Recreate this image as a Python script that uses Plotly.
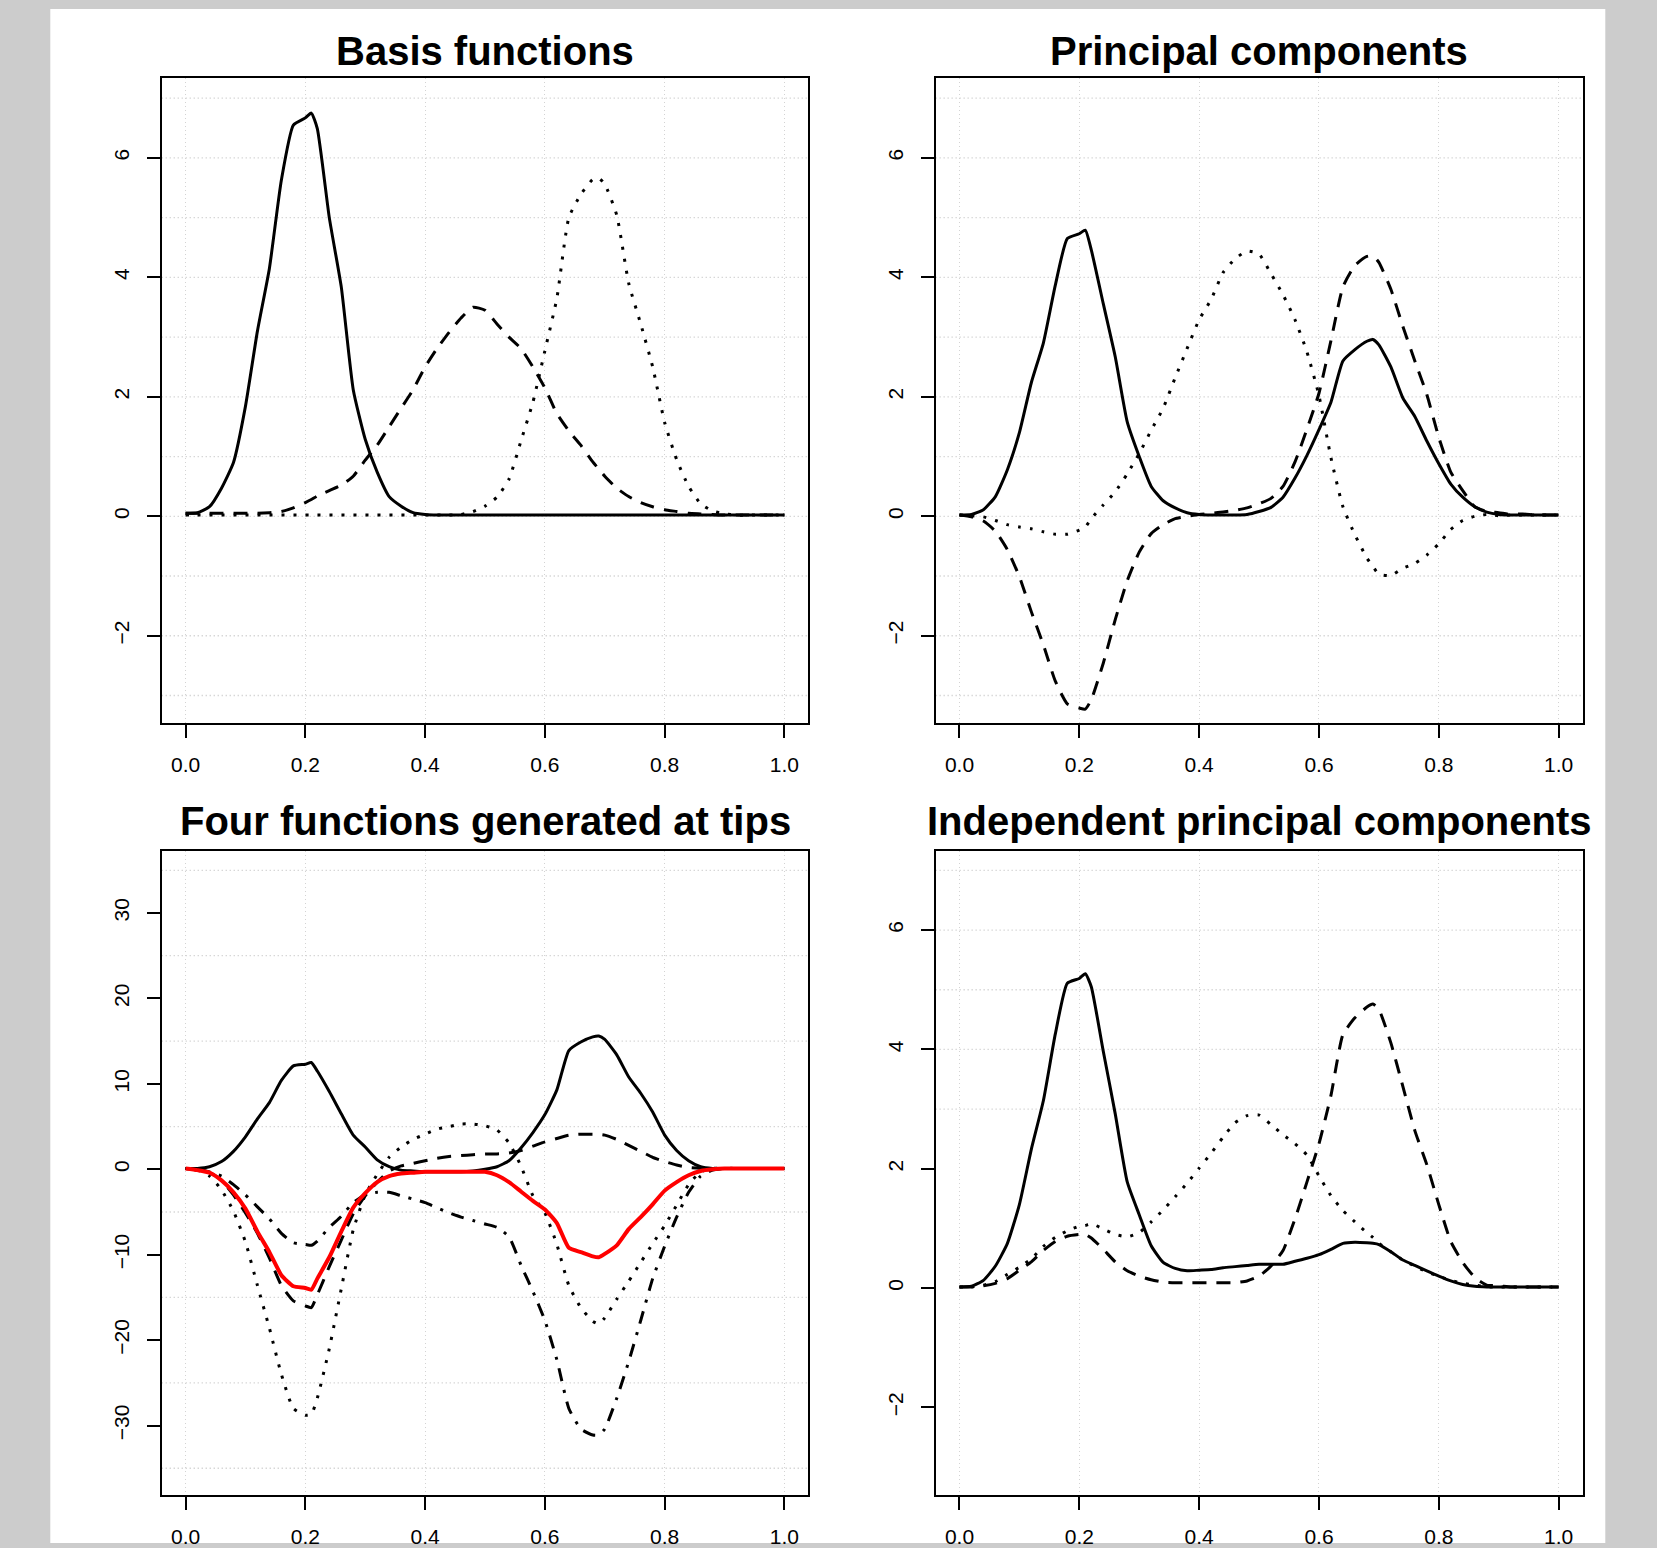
import plotly.graph_objects as go

W, H = 1657, 1548

# ---------------- data ----------------
x_grid = [0.00, 0.02, 0.04, 0.06, 0.08, 0.10, 0.12, 0.14, 0.16, 0.18, 0.20, 0.21, 0.22,
          0.24, 0.26, 0.28, 0.30, 0.32, 0.34, 0.36, 0.38, 0.40, 0.42, 0.44, 0.46, 0.48,
          0.50, 0.52, 0.54, 0.56, 0.58, 0.60, 0.62, 0.64, 0.66, 0.68, 0.69, 0.70, 0.72,
          0.74, 0.76, 0.78, 0.80, 0.82, 0.84, 0.86, 0.88, 0.90, 0.92, 0.94, 0.96, 0.98, 1.00]

# Panel 1: Basis functions
basis_1 = [0.05, 0.06, 0.16, 0.47, 0.90, 1.84, 3.10, 4.15, 5.63, 6.55, 6.67, 6.75, 6.49,
           5.00, 3.84, 2.12, 1.29, 0.74, 0.33, 0.17, 0.06, 0.03, 0.02, 0.02, 0.02, 0.02,
           0.02, 0.02, 0.02, 0.02, 0.02, 0.02, 0.02, 0.02, 0.02, 0.02, 0.02, 0.02, 0.02,
           0.02, 0.02, 0.02, 0.02, 0.02, 0.02, 0.02, 0.02, 0.02, 0.02, 0.02, 0.02, 0.02, 0.02]
basis_2 = [0.05, 0.05, 0.05, 0.05, 0.05, 0.05, 0.05, 0.06, 0.08, 0.14, 0.23, 0.28, 0.34,
           0.43, 0.52, 0.67, 0.94, 1.19, 1.50, 1.81, 2.12, 2.50, 2.81, 3.08, 3.32, 3.50,
           3.45, 3.22, 3.00, 2.81, 2.50, 2.15, 1.72, 1.43, 1.19, 0.91, 0.79, 0.67, 0.47,
           0.33, 0.23, 0.16, 0.11, 0.08, 0.05, 0.04, 0.03, 0.02, 0.02, 0.02, 0.02, 0.02, 0.02]
basis_3 = [0.02, 0.02, 0.02, 0.02, 0.02, 0.02, 0.02, 0.02, 0.02, 0.02, 0.02, 0.02, 0.02,
           0.02, 0.02, 0.02, 0.02, 0.02, 0.02, 0.02, 0.02, 0.02, 0.02, 0.02, 0.03, 0.08,
           0.17, 0.32, 0.62, 1.26, 1.91, 2.77, 3.65, 5.00, 5.39, 5.64, 5.66, 5.56, 5.04,
           3.90, 3.22, 2.50, 1.57, 0.95, 0.50, 0.21, 0.09, 0.04, 0.02, 0.02, 0.02, 0.02, 0.02]

# Panel 2: Principal components
pc_1 = [0.02, 0.03, 0.11, 0.33, 0.78, 1.40, 2.24, 2.90, 3.87, 4.65, 4.73, 4.79, 4.46,
        3.56, 2.67, 1.58, 1.00, 0.50, 0.26, 0.14, 0.06, 0.03, 0.02, 0.02, 0.02, 0.03,
        0.08, 0.15, 0.32, 0.64, 1.02, 1.45, 1.91, 2.60, 2.79, 2.93, 2.96, 2.87, 2.50,
        1.98, 1.67, 1.26, 0.88, 0.54, 0.32, 0.16, 0.07, 0.03, 0.02, 0.02, 0.02, 0.02, 0.02]
pc_2 = [0.02, -0.01, -0.08, -0.25, -0.56, -1.01, -1.60, -2.15, -2.76, -3.14, -3.21, -3.23, -3.07,
        -2.46, -1.73, -1.08, -0.60, -0.29, -0.14, -0.04, 0.00, 0.03, 0.05, 0.07, 0.10, 0.14,
        0.21, 0.30, 0.50, 0.91, 1.46, 2.06, 2.94, 3.84, 4.20, 4.35, 4.36, 4.25, 3.80,
        3.18, 2.60, 2.04, 1.32, 0.74, 0.43, 0.16, 0.08, 0.06, 0.03, 0.04, 0.02, 0.02, 0.02]
pc_3 = [0.02, 0.01, -0.01, -0.07, -0.14, -0.18, -0.21, -0.26, -0.30, -0.30, -0.23, -0.18, -0.04,
        0.19, 0.41, 0.71, 1.05, 1.44, 1.81, 2.32, 2.81, 3.29, 3.63, 4.08, 4.31, 4.44,
        4.39, 4.06, 3.71, 3.29, 2.75, 2.02, 0.98, 0.16, -0.31, -0.70, -0.84, -0.97, -0.99,
        -0.87, -0.79, -0.65, -0.46, -0.22, -0.07, 0.00, 0.03, 0.01, 0.02, 0.02, 0.02, 0.02, 0.02]

# Panel 3: Four functions generated at tips
tip_solid = [0.1, 0.1, 0.3, 0.9, 2.1, 3.8, 5.9, 7.8, 10.4, 12.1, 12.3, 12.5, 11.5,
             9.1, 6.5, 4.0, 2.6, 1.1, 0.3, -0.1, -0.2, -0.3, -0.3, -0.3, -0.3, -0.2,
             0.0, 0.3, 1.0, 2.5, 4.3, 6.4, 9.3, 13.9, 14.9, 15.5, 15.6, 15.2, 13.4,
             10.8, 8.9, 6.7, 4.0, 2.2, 1.0, 0.3, 0.1, 0.1, 0.1, 0.1, 0.1, 0.1, 0.1]
tip_dashed = [0.1, -0.1, -0.4, -1.3, -3.0, -5.1, -7.5, -10.4, -13.6, -15.4, -16.0, -16.2, -14.7,
              -11.4, -8.3, -5.2, -3.1, -1.5, -0.2, 0.4, 0.7, 1.0, 1.3, 1.5, 1.6, 1.7,
              1.8, 1.8, 1.9, 2.2, 2.7, 3.2, 3.6, 4.0, 4.1, 4.1, 4.1, 4.0, 3.5,
              2.8, 2.1, 1.4, 0.9, 0.5, 0.2, 0.1, 0.1, 0.1, 0.1, 0.1, 0.1, 0.1, 0.1]
tip_dotted = [0.1, -0.1, -0.8, -2.4, -4.9, -8.5, -13.6, -18.6, -24.0, -28.0, -28.8, -28.7, -26.8,
              -21.0, -14.0, -7.1, -3.0, -0.6, 1.4, 2.6, 3.5, 4.1, 4.7, 5.0, 5.3, 5.3,
              5.1, 4.6, 3.1, 0.4, -3.1, -5.1, -8.8, -13.6, -16.2, -17.8, -18.1, -17.4, -15.2,
              -13.1, -10.9, -8.7, -6.6, -4.2, -1.8, -0.3, 0.1, 0.1, 0.1, 0.1, 0.1, 0.1, 0.1]
tip_dotdash = [0.1, 0.0, -0.3, -0.8, -1.8, -3.0, -4.4, -5.8, -7.5, -8.6, -8.8, -8.9, -8.4,
               -6.8, -5.5, -3.9, -3.0, -2.7, -2.7, -3.1, -3.5, -3.9, -4.5, -5.1, -5.6, -6.0,
               -6.4, -6.8, -7.9, -11.2, -14.3, -17.7, -22.3, -28.0, -30.4, -31.1, -31.1, -30.4, -26.8,
               -22.5, -17.7, -12.8, -9.0, -5.6, -2.7, -0.8, -0.1, 0.1, 0.1, 0.1, 0.1, 0.1, 0.1]
tip_red = [0.1, -0.1, -0.4, -1.3, -2.7, -4.6, -7.3, -9.7, -12.4, -13.7, -13.9, -14.1, -12.8,
           -10.3, -7.3, -4.5, -2.8, -1.5, -0.8, -0.5, -0.4, -0.3, -0.3, -0.3, -0.3, -0.3,
           -0.3, -0.7, -1.5, -2.6, -3.7, -4.7, -6.3, -9.2, -9.7, -10.2, -10.3, -9.9, -8.9,
           -7.0, -5.6, -4.1, -2.5, -1.5, -0.7, -0.2, 0.0, 0.1, 0.1, 0.1, 0.1, 0.1, 0.1]

# Panel 4: Independent principal components
ipc_1 = [0.02, 0.03, 0.13, 0.37, 0.75, 1.40, 2.33, 3.14, 4.26, 5.11, 5.19, 5.27, 5.05,
         3.97, 2.92, 1.78, 1.23, 0.71, 0.43, 0.33, 0.29, 0.30, 0.31, 0.34, 0.36, 0.38,
         0.40, 0.40, 0.40, 0.45, 0.50, 0.56, 0.65, 0.75, 0.77, 0.76, 0.75, 0.73, 0.61,
         0.47, 0.38, 0.29, 0.20, 0.12, 0.06, 0.03, 0.02, 0.02, 0.02, 0.02, 0.02, 0.02, 0.02]
ipc_2 = [0.02, 0.02, 0.04, 0.08, 0.16, 0.30, 0.44, 0.63, 0.78, 0.87, 0.90, 0.90, 0.84,
         0.65, 0.44, 0.29, 0.20, 0.14, 0.10, 0.09, 0.09, 0.09, 0.09, 0.09, 0.09, 0.12,
         0.20, 0.37, 0.63, 1.16, 1.78, 2.42, 3.23, 4.25, 4.53, 4.71, 4.76, 4.67, 4.11,
         3.38, 2.64, 2.07, 1.40, 0.78, 0.43, 0.18, 0.05, 0.04, 0.02, 0.02, 0.02, 0.02, 0.02]
ipc_3 = [0.02, 0.02, 0.05, 0.11, 0.23, 0.35, 0.49, 0.70, 0.85, 0.96, 1.04, 1.05, 1.08,
         0.99, 0.90, 0.86, 0.93, 1.11, 1.31, 1.53, 1.76, 2.01, 2.26, 2.53, 2.77, 2.89,
         2.90, 2.74, 2.57, 2.42, 2.23, 1.88, 1.55, 1.30, 1.11, 0.93, 0.85, 0.75, 0.61,
         0.47, 0.37, 0.27, 0.20, 0.13, 0.08, 0.05, 0.02, 0.02, 0.02, 0.02, 0.02, 0.02, 0.02]

titles = ["Basis functions", "Principal components",
          "Four functions generated at tips", "Independent principal components"]
x_ticks = [0.0, 0.2, 0.4, 0.6, 0.8, 1.0]
y_ticks_small = [-2, 0, 2, 4, 6]
y_ticks_large = [-30, -20, -10, 0, 10, 20, 30]
grid_small = [-3, -2, -1, 0, 1, 2, 3, 4, 5, 6, 7]
grid_large = [-35, -25, -15, -5, 5, 15, 25, 35]
grid_ipc = [3, 4, 5, 6, 7]

# ---------------- styling ----------------
FONT = "Liberation Sans, Arial, Helvetica, sans-serif"
GRID_COLOR = "#d3d3d3"
GRID_DASH = "1.3px,2.7px"
DASH = {"solid": "solid", "dashed": "14px,10px", "dotted": "3px,9px",
        "dotdash": "3px,9px,13px,9px"}
LW = 3.0


def fx(p):
    return p / W


def fy(p):
    return 1 - p / H


col_dom = [[fx(161.6), fx(808.4)], [fx(935.5), fx(1582.6)]]
row_dom = [[fy(725.3), fy(78.1)], [fy(1500.0), fy(853.5)]]

fig = go.Figure()

panels = [
    ("", 0, 0, [-3.46, 7.34], y_ticks_small, grid_small,
     [(basis_1, "solid", "black"), (basis_2, "dashed", "black"), (basis_3, "dotted", "black")]),
    ("2", 1, 0, [-3.46, 7.34], y_ticks_small, grid_small,
     [(pc_1, "solid", "black"), (pc_2, "dashed", "black"), (pc_3, "dotted", "black")]),
    ("3", 0, 1, [-38.15, 37.29], y_ticks_large, grid_large,
     [(tip_solid, "solid", "black"), (tip_dashed, "dashed", "black"),
      (tip_dotted, "dotted", "black"), (tip_dotdash, "dotdash", "black"),
      (tip_red, "solid", "#ff0000")]),
    ("4", 1, 1, [-3.47, 7.33], y_ticks_small, grid_ipc,
     [(ipc_1, "solid", "black"), (ipc_2, "dashed", "black"), (ipc_3, "dotted", "black")]),
]

shapes = [dict(type="rect", xref="paper", yref="paper", x0=fx(50.3), x1=fx(1605.3),
               y0=0, y1=fy(9.0), fillcolor="white", line=dict(width=0), layer="below")]
annotations = []

axis_base = dict(showline=True, mirror=True, linecolor="black", linewidth=2,
                 ticks="outside", ticklen=13, tickwidth=2, tickcolor="black",
                 tickfont=dict(family=FONT, size=21, color="black"),
                 zeroline=False, fixedrange=True)

for i, (suffix, col, row, yr, yt, gv, curves) in enumerate(panels):
    xa = "x" + suffix
    ya = "y" + suffix
    for yvals, style, color in curves:
        fig.add_trace(go.Scatter(
            x=x_grid, y=yvals, xaxis=xa, yaxis=ya, mode="lines",
            line=dict(color=color, width=(4.0 if color != "black" else LW),
                      dash=DASH[style], shape="spline", smoothing=0.5),
            hoverinfo="skip", showlegend=False))

    fig.layout["xaxis" + suffix] = dict(
        axis_base, domain=col_dom[col], anchor=ya, range=[-0.04, 1.04],
        tickmode="array", tickvals=x_ticks, ticktext=[f"{v:.1f}" for v in x_ticks],
        showgrid=True, gridcolor=GRID_COLOR, griddash=GRID_DASH, gridwidth=1.3,
        ticklabelstandoff=9)
    fig.layout["yaxis" + suffix] = dict(
        axis_base, domain=row_dom[row], anchor=xa, range=yr,
        tickmode="array", tickvals=yt, tickangle=-90, showgrid=False,
        ticklabelstandoff=9)

    for g in gv:
        shapes.append(dict(type="line", xref=xa + " domain", yref=ya, x0=0, x1=1,
                           y0=g, y1=g, layer="below",
                           line=dict(color=GRID_COLOR, width=1.3, dash=GRID_DASH)))

    cx = (col_dom[col][0] + col_dom[col][1]) / 2
    cy = fy(51.0) if row == 0 else fy(823.6)
    annotations.append(dict(
        text="<b>" + titles[i] + "</b>",
        xref="paper", yref="paper", x=cx, y=cy, xanchor="center", yanchor="middle",
        showarrow=False, font=dict(family=FONT, size=40, color="black")))

fig.update_layout(
    width=W, height=H, margin=dict(l=0, r=0, t=0, b=0, pad=0),
    paper_bgcolor="#cccccc", plot_bgcolor="white",
    shapes=shapes, annotations=annotations, showlegend=False,
    font=dict(family=FONT, color="black"))

fig.write_html(
    "out.html",
    config={"displayModeBar": False},
    post_script="document.body.style.margin='0';document.body.style.padding='0';"
                "document.body.style.overflow='hidden';")
